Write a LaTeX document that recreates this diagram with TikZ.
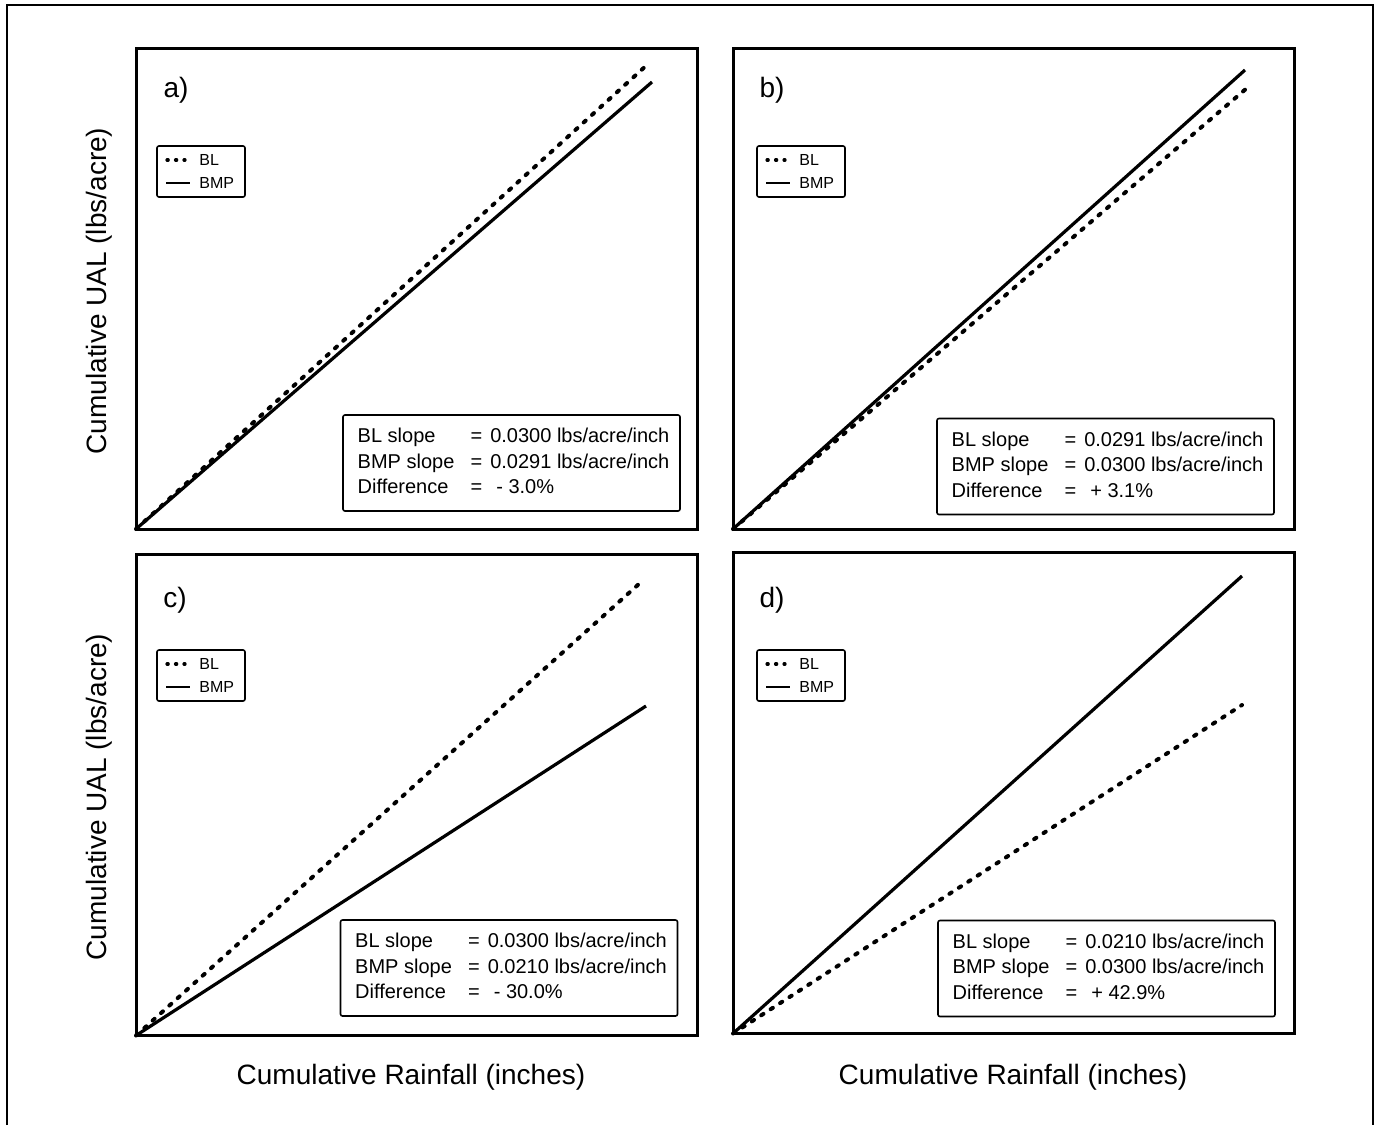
\documentclass[tikz,border=0pt]{standalone}
\usepackage{fontspec}
\setmainfont{Liberation Sans}
\usepackage{tikz}

\begin{document}
\begin{tikzpicture}[x=0.5pt,y=-0.5pt,
  panel/.style={draw,line width=1.5pt,inner sep=0pt,outer sep=0pt,minimum width=280.5pt,minimum height=240.5pt},
  blline/.style={line width=2pt,line cap=round,dash pattern=on 1.3pt off 4.3pt},
  bmpline/.style={line width=1.6pt},
  legbl/.style={line width=1.6pt,line cap=round,dash pattern=on 0.6pt off 3.65pt},
  legbmp/.style={line width=1.4pt},
  legbox/.style={draw,line width=0.8pt,rounded corners=1pt,inner sep=0pt,minimum width=44pt,minimum height=25.5pt},
  legtext/.style={font=\fontsize{8}{9}\selectfont,inner sep=0pt,anchor=west},
  statbox/.style={draw,line width=0.8pt,rounded corners=1pt,inner xsep=0pt,inner ysep=0pt,minimum width=168.5pt,minimum height=48pt,font=\fontsize{10}{12.75}\selectfont},
  tag/.style={font=\fontsize{14}{16}\selectfont,inner sep=0pt},
  axlabel/.style={font=\fontsize{14}{16}\selectfont,inner sep=0pt}]
\useasboundingbox (0,0) rectangle (1374,1125);
\draw[line width=1pt] (7,1125) -- (7,5) -- (1373,5) -- (1373,1125);

% panels
\node[panel] (pa) at (416.5,288.5) {};
\node[panel] (pb) at (1013.5,288.5) {};
\node[panel] (pc) at (416.5,795) {};
\node[panel] (pd) at (1013.5,793) {};

\node[tag] (ta) at (176,90) {a)};
\node[tag] (tb) at (772,90) {b)};
\node[tag] (tc) at (175,600) {c)};
\node[tag] (td) at (772,600) {d)};

% line ends
\coordinate (aBL) at (648,64);
\coordinate (aBMP) at (652,82);
\coordinate (bBL) at (1247,88);
\coordinate (bBMP) at (1245,70);
\coordinate (cBL) at (640,583);
\coordinate (cBMP) at (646,706);
\coordinate (dBL) at (1242,705);
\coordinate (dBMP) at (1242,576);

\draw[blline] (pa.south west) -- (aBL);
\draw[bmpline] (pa.south west) -- (aBMP);
\draw[blline] (pb.south west) -- (bBL);
\draw[bmpline] (pb.south west) -- (bBMP);
\draw[blline] (pc.south west) -- (cBL);
\draw[bmpline] (pc.south west) -- (cBMP);
\draw[blline] (pd.south west) -- (dBL);
\draw[bmpline] (pd.south west) -- (dBMP);

% legends
\node[legbox] (la) at (201,171.5) {};
\node[legtext] (laBL) at (199,160) {BL};
\node[legtext] (laBMP) at (199,183) {BMP};
\draw[legbl] ([xshift=-16pt]laBL.west) -- ([xshift=-7pt]laBL.west);
\draw[legbmp] ([xshift=-16.5pt]laBMP.west) -- ([xshift=-4.5pt]laBMP.west);

\node[legbox] (lb) at (801,171.5) {};
\node[legtext] (lbBL) at (799,160) {BL};
\node[legtext] (lbBMP) at (799,183) {BMP};
\draw[legbl] ([xshift=-16pt]lbBL.west) -- ([xshift=-7pt]lbBL.west);
\draw[legbmp] ([xshift=-16.5pt]lbBMP.west) -- ([xshift=-4.5pt]lbBMP.west);

\node[legbox] (lc) at (201,675.5) {};
\node[legtext] (lcBL) at (199,664) {BL};
\node[legtext] (lcBMP) at (199,687) {BMP};
\draw[legbl] ([xshift=-16pt]lcBL.west) -- ([xshift=-7pt]lcBL.west);
\draw[legbmp] ([xshift=-16.5pt]lcBMP.west) -- ([xshift=-4.5pt]lcBMP.west);

\node[legbox] (ld) at (801,675.5) {};
\node[legtext] (ldBL) at (799,664) {BL};
\node[legtext] (ldBMP) at (799,687) {BMP};
\draw[legbl] ([xshift=-16pt]ldBL.west) -- ([xshift=-7pt]ldBL.west);
\draw[legbmp] ([xshift=-16.5pt]ldBMP.west) -- ([xshift=-4.5pt]ldBMP.west);

% slope boxes
\node[statbox] (sa) at (511.5,463) {\hspace{2pt}\begin{tabular}{@{}p{56.5pt}@{}p{9.8pt}@{}l@{}}
BL slope & = & 0.0300 lbs/acre/inch\\
BMP slope & = & 0.0291 lbs/acre/inch\\
Difference & = & \hspace{3pt}- 3.0\%
\end{tabular}};
\node[statbox] (sb) at (1105.5,466.5) {\hspace{2pt}\begin{tabular}{@{}p{56.5pt}@{}p{9.8pt}@{}l@{}}
BL slope & = & 0.0291 lbs/acre/inch\\
BMP slope & = & 0.0300 lbs/acre/inch\\
Difference & = & \hspace{3pt}+ 3.1\%
\end{tabular}};
\node[statbox] (sc) at (509,968) {\hspace{2pt}\begin{tabular}{@{}p{56.5pt}@{}p{9.8pt}@{}l@{}}
BL slope & = & 0.0300 lbs/acre/inch\\
BMP slope & = & 0.0210 lbs/acre/inch\\
Difference & = & \hspace{3pt}- 30.0\%
\end{tabular}};
\node[statbox] (sd) at (1106.5,968.5) {\hspace{2pt}\begin{tabular}{@{}p{56.5pt}@{}p{9.8pt}@{}l@{}}
BL slope & = & 0.0210 lbs/acre/inch\\
BMP slope & = & 0.0300 lbs/acre/inch\\
Difference & = & \hspace{3pt}+ 42.9\%
\end{tabular}};

% axis labels
\node[axlabel,rotate=90] (ya) at (99,291) {Cumulative UAL (lbs/acre)};
\node[axlabel,rotate=90] (yc) at (99,797) {Cumulative UAL (lbs/acre)};
\node[axlabel] (xc) at (411,1077) {Cumulative Rainfall (inches)};
\node[axlabel] (xd) at (1013,1077) {Cumulative Rainfall (inches)};
\end{tikzpicture}
\end{document}
